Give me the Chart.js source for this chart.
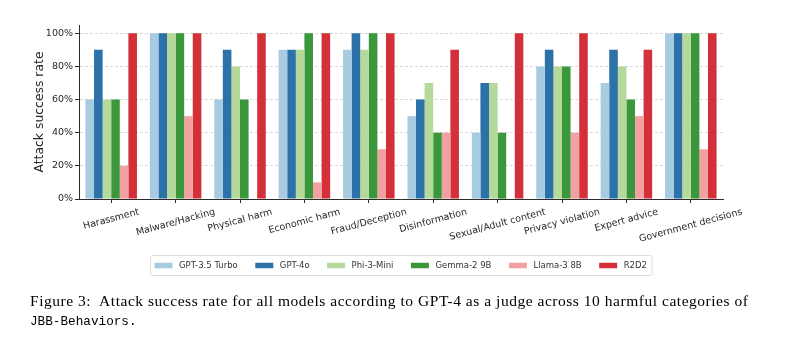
<!DOCTYPE html>
<html>
<head>
<meta charset="utf-8">
<script src="https://cdn.jsdelivr.net/npm/chart.js@4"></script>
<style>
  html, body { margin: 0; padding: 0; background: #ffffff; }
  body { width: 800px; height: 341px; position: relative; overflow: hidden; }
  #chartBox { position: absolute; left: 0; top: 0; width: 800px; height: 341px; }
  .caption1 {
    position: absolute; left: 30px; top: 292.7px;
    font-family: "Liberation Serif", "DejaVu Serif", serif;
    font-size: 15.5px; line-height: 15px; color: #000;
    white-space: nowrap;
  }
  .caption2 {
    position: absolute; left: 30px; top: 314.5px;
    font-family: "Liberation Mono", "DejaVu Sans Mono", monospace;
    font-size: 12.7px; line-height: 13px; color: #000;
    white-space: nowrap;
  }
</style>
</head>
<body>
<div id="chartBox"><canvas id="chart" width="800" height="341"></canvas></div>
<div class="caption1" id="cap1">Figure 3:&nbsp; Attack success rate for all models according to GPT-4 as a judge across 10 harmful categories of</div>
<div class="caption2">JBB-Behaviors.</div>
<script>
// Harm categories on the x axis
const categories = [
  'Harassment', 'Malware/Hacking', 'Physical harm', 'Economic harm',
  'Fraud/Deception', 'Disinformation', 'Sexual/Adult content',
  'Privacy violation', 'Expert advice', 'Government decisions'
];

// Model names, in legend order
const modelNames = ['GPT-3.5 Turbo', 'GPT-4o', 'Phi-3-Mini', 'Gemma-2 9B', 'Llama-3 8B', 'R2D2'];

// Attack success rate (%) per category, one array per model
const gpt35Turbo = [60, 100, 60, 90, 90, 50, 40, 80, 70, 100];
const gpt4o      = [90, 100, 90, 90, 100, 60, 70, 90, 90, 100];
const phi3Mini   = [60, 100, 80, 90, 90, 70, 70, 80, 80, 100];
const gemma2_9b  = [60, 100, 60, 100, 100, 40, 40, 80, 60, 100];
const llama3_8b  = [20, 50, 0, 10, 30, 40, 0, 40, 50, 30];
const r2d2       = [100, 100, 100, 100, 100, 90, 100, 100, 90, 100];

// Y axis tick values (%)
const yTicks = [0, 20, 40, 60, 80, 100];

const seriesValues = [gpt35Turbo, gpt4o, phi3Mini, gemma2_9b, llama3_8b, r2d2];
const seriesColors = ['#a7cbe1', '#2c71a8', '#b4d99b', '#3a973b', '#f1a1a1', '#d3303a'];

const AXIS_COLOR = '#2b2b2b';
const TEXT_COLOR = '#262626';
const SANS = '"DejaVu Sans", "Liberation Sans", sans-serif';

// Category labels rotated 15 degrees, centred under each tick
const rotatedXLabels = {
  id: 'rotatedXLabels',
  afterDraw(chart) {
    const { ctx, scales: { x }, chartArea } = chart;
    const fs = 9.5;
    const ang = 15 * Math.PI / 180;
    ctx.save();
    ctx.font = fs + 'px ' + SANS;
    ctx.fillStyle = TEXT_COLOR;
    ctx.textAlign = 'center';
    ctx.textBaseline = 'middle';
    const y0 = chartArea.bottom + 4 + 3.5;
    categories.forEach((label, i) => {
      const px = x.getPixelForValue(i);
      const w = ctx.measureText(label).width;
      const h = fs * 1.17;
      const bboxH = w * Math.sin(ang) + h * Math.cos(ang);
      ctx.save();
      ctx.translate(px, y0 + bboxH / 2);
      ctx.rotate(-ang);
      ctx.fillText(label, 0, 0);
      ctx.restore();
    });
    ctx.restore();
  }
};

// Single-row framed legend beneath the axis labels
const framedLegend = {
  id: 'framedLegend',
  afterDraw(chart) {
    const { ctx, chartArea } = chart;
    const fs = 8.5;
    const handleW = 18, handleH = 5.5, textPad = 6.5, colGap = 17.5, borderPad = 4.5;
    ctx.save();
    ctx.font = fs + 'px ' + SANS;
    const items = chart.data.datasets.map(ds => ({
      label: ds.label, color: ds.backgroundColor, tw: ctx.measureText(ds.label).width
    }));
    let total = 0;
    items.forEach((it, i) => { total += handleW + textPad + it.tw + (i < items.length - 1 ? colGap : 0); });
    const boxW = total + borderPad * 2;
    const cx = (chartArea.left + chartArea.right) / 2;
    const boxL = Math.round(cx - boxW / 2);
    const boxT = 255, boxH = 20;
    const cy = boxT + boxH / 2 + 0.5;
    ctx.beginPath();
    ctx.roundRect(boxL + 0.5, boxT + 0.5, boxW, boxH, 2);
    ctx.fillStyle = 'rgba(255,255,255,0.8)';
    ctx.fill();
    ctx.strokeStyle = '#dcdcdc';
    ctx.lineWidth = 1;
    ctx.stroke();
    let xPos = boxL + borderPad;
    ctx.textAlign = 'left';
    ctx.textBaseline = 'middle';
    items.forEach(it => {
      ctx.fillStyle = it.color;
      ctx.fillRect(xPos, cy - handleH / 2, handleW, handleH);
      xPos += handleW + textPad;
      ctx.fillStyle = '#333333';
      ctx.fillText(it.label, xPos, cy + 0.5);
      xPos += it.tw + colGap;
    });
    ctx.restore();
  }
};

const chart = new Chart(document.getElementById('chart'), {
  type: 'bar',
  data: {
    labels: categories,
    datasets: modelNames.map((name, i) => ({
      label: name,
      data: seriesValues[i],
      backgroundColor: seriesColors[i],
      borderWidth: 0,
      categoryPercentage: 0.8,
      barPercentage: 1.0
    }))
  },
  options: {
    responsive: false,
    animation: false,
    devicePixelRatio: 1,
    layout: { padding: { left: 0, right: 77, top: 25, bottom: 0 } },
    plugins: {
      legend: { display: false },
      tooltip: { enabled: false }
    },
    scales: {
      x: {
        offset: true,
        grid: {
          display: true,
          offset: false,
          drawOnChartArea: false,
          drawTicks: true,
          tickLength: 4,
          tickColor: AXIS_COLOR,
          tickWidth: 1
        },
        border: { display: true, color: AXIS_COLOR, width: 1 },
        ticks: { display: false },
        afterFit(scale) { scale.height = 142; }
      },
      y: {
        min: 0,
        max: 105,
        afterBuildTicks(scale) { scale.ticks = yTicks.map(v => ({ value: v })); },
        grid: {
          color: '#cfcfcf',
          lineWidth: 0.8,
          drawTicks: true,
          tickLength: 4,
          tickColor: AXIS_COLOR,
          tickWidth: 1,
          tickBorderDash: []
        },
        border: { display: true, color: AXIS_COLOR, width: 1, dash: [3, 2] },
        ticks: {
          padding: 2,
          color: TEXT_COLOR,
          font: { family: SANS, size: 9.5 },
          callback: v => v + '%'
        },
        title: {
          display: true,
          text: 'Attack success rate',
          color: TEXT_COLOR,
          font: { family: SANS, size: 12.4 },
          padding: { top: 32.5, bottom: 0 }
        },
        afterFit(scale) { scale.width = 79; }
      }
    }
  },
  plugins: [rotatedXLabels, framedLegend]
});

// Stretch the first caption line to the text block width
(function () {
  const cap = document.getElementById('cap1');
  const target = 718;
  const w = cap.getBoundingClientRect().width;
  const n = cap.textContent.length;
  cap.style.letterSpacing = ((target - w) / (n - 1)).toFixed(3) + 'px';
})();
</script>
</body>
</html>
